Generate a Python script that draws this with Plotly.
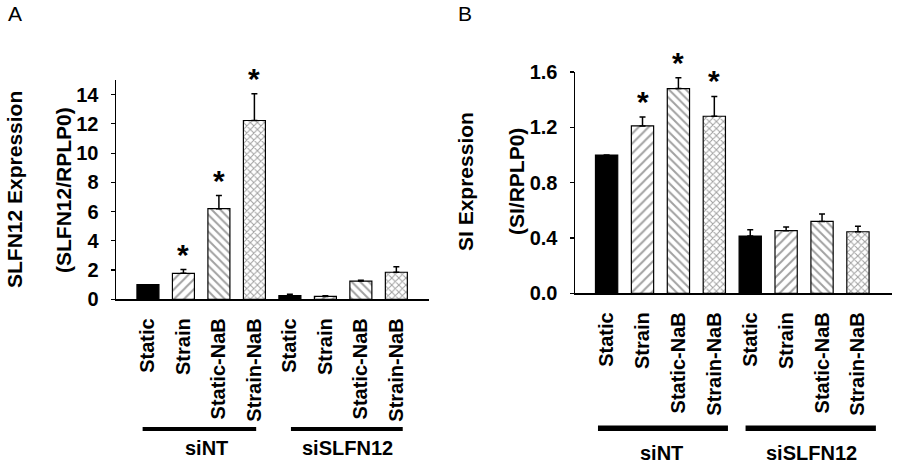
import plotly.graph_objects as go

# ---------------- data ----------------
conditions = ["Static", "Strain", "Static-NaB", "Strain-NaB",
              "Static", "Strain", "Static-NaB", "Strain-NaB"]
groups = ["siNT", "siSLFN12"]

slfn12_mean = [1.0, 1.78, 6.2, 12.23, 0.25, 0.20, 1.25, 1.85]
slfn12_err = [0.0, 0.25, 0.90, 1.83, 0.09, 0.05, 0.05, 0.38]
slfn12_sig = [False, True, True, True, False, False, False, False]

si_mean = [1.0, 1.21, 1.48, 1.28, 0.414, 0.453, 0.52, 0.445]
si_err = [0.0, 0.065, 0.078, 0.143, 0.046, 0.027, 0.053, 0.039]
si_sig = [False, True, True, True, False, False, False, False]

slfn12_ticks = [0, 2, 4, 6, 8, 10, 12, 14]
si_ticks = [0.0, 0.4, 0.8, 1.2, 1.6]

# ---------------- styles ----------------
FONT = "Liberation Sans, Arial, sans-serif"
style_color = {"Static": "black", "Strain": "white", "Static-NaB": "white", "Strain-NaB": "white"}
style_shape = {"Static": "", "Strain": "/", "Static-NaB": "\\", "Strain-NaB": "x"}
style_size = {"Static": 6, "Strain": 7, "Static-NaB": 6, "Strain-NaB": 5}
style_solid = {"Static": 0.2, "Strain": 0.28, "Static-NaB": 0.33, "Strain-NaB": 0.38}

xs = list(range(len(conditions)))

fig = go.Figure()


def add_bars(mean, err, xa, ya):
    fig.add_trace(go.Bar(
        x=xs, y=mean, width=0.62,
        xaxis=xa, yaxis=ya,
        marker=dict(
            color=[style_color[c] for c in conditions],
            line=dict(color="black", width=1.2),
            pattern=dict(
                shape=[style_shape[c] for c in conditions],
                size=[style_size[c] for c in conditions],
                solidity=[style_solid[c] for c in conditions],
                fgcolor="black", bgcolor="white", fillmode="overlay",
            ),
        ),
        error_y=dict(type="data", array=err, arrayminus=[0] * len(err),
                     symmetric=False, color="black", thickness=1.5, width=3),
        showlegend=False, hoverinfo="skip",
    ))


add_bars(slfn12_mean, slfn12_err, "x", "y")
add_bars(si_mean, si_err, "x2", "y2")

W, H = 900, 465

tickfont_y = dict(family=FONT, size=20, color="black", weight="bold")
tickfont_x = dict(family=FONT, size=20, color="black", weight="bold")

common_x = dict(
    tickmode="array", tickvals=xs, ticktext=conditions, tickangle=-90,
    tickfont=tickfont_x, showline=True, linecolor="black", linewidth=2,
    ticks="", showgrid=False, zeroline=False, ticklabelstandoff=9,
    fixedrange=True, automargin=False,
)
common_y = dict(
    showline=True, linecolor="black", linewidth=1.5, ticks="outside",
    ticklen=4, tickwidth=1.2, tickcolor="black", tickfont=tickfont_y,
    showgrid=False, zeroline=False, ticklabelstandoff=8, fixedrange=True,
    automargin=False,
)

fig.update_layout(
    width=W, height=H,
    margin=dict(l=0, r=0, t=0, b=0, autoexpand=False),
    paper_bgcolor="white", plot_bgcolor="white",
    font=dict(family=FONT, color="black"),
    bargap=0,
    xaxis=dict(domain=[116 / W, 429 / W], range=[-0.9, 7.92], anchor="y", **common_x),
    yaxis=dict(domain=[(H - 299.3) / H, (H - 80) / H], range=[0, 15],
               tickvals=slfn12_ticks, anchor="x", **common_y),
    xaxis2=dict(domain=[575 / W, 891.7 / W], range=[-0.88, 7.94], anchor="y2", **common_x),
    yaxis2=dict(domain=[(H - 293.3) / H, (H - 72) / H], range=[0, 1.6],
                tickvals=si_ticks, tickformat=".1f", anchor="x2", **common_y),
)

annotations = []
shapes = []

# significance stars
for xa, ya, mean, err, sig in [("x", "y", slfn12_mean, slfn12_err, slfn12_sig),
                               ("x2", "y2", si_mean, si_err, si_sig)]:
    for i, (m, e, s) in enumerate(zip(mean, err, sig)):
        if s:
            annotations.append(dict(
                x=i, y=m + e, xref=xa, yref=ya, text="*", showarrow=False,
                yanchor="bottom", yshift=-3,
                font=dict(family=FONT, size=30, color="black", weight="bold"),
            ))

# y titles
for xpix, ypix, txt in [(14, 190, "SLFN12 Expression"), (63, 190, "(SLFN12/RPLP0)"),
                        (466, 182, "SI Expression"), (517, 182, "(SI/RPLP0)")]:
    annotations.append(dict(
        x=xpix / W, y=(H - ypix) / H, xref="paper", yref="paper", text=txt,
        textangle=-90, showarrow=False, xanchor="center", yanchor="middle",
        font=dict(family=FONT, size=21, color="black", weight="bold"),
    ))

# panel letters
for xpix, txt in [(6, "A"), (456, "B")]:
    annotations.append(dict(
        x=xpix / W, y=1, xref="paper", yref="paper", text=txt,
        showarrow=False, xanchor="left", yanchor="top",
        font=dict(family=FONT, size=21, color="black"),
    ))

# group bars and labels
group_specs = [
    ("x", [(-0.15, 3.05), (4.03, 7.18)], 429, 4, [1.66, 5.63], 448),
    ("x2", [(-0.24, 3.38), (3.87, 7.5)], 428.3, 5.5, [1.53, 5.71], 453),
]
for xa, spans, ypix, lw, labx, laby in group_specs:
    for (x0, x1), g, lx in zip(spans, groups, labx):
        shapes.append(dict(
            type="line", xref=xa, yref="paper", x0=x0, x1=x1,
            y0=(H - ypix) / H, y1=(H - ypix) / H,
            line=dict(color="black", width=lw),
        ))
        annotations.append(dict(
            x=lx, y=(H - laby) / H, xref=xa, yref="paper", text=g,
            showarrow=False, xanchor="center", yanchor="middle",
            font=dict(family=FONT, size=20, color="black", weight="bold"),
        ))

fig.update_layout(annotations=annotations, shapes=shapes)

fig.write_html(
    "out.html",
    config={"displayModeBar": False, "staticPlot": True},
    post_script="document.body.style.margin='0px';document.body.style.padding='0px';"
                "document.body.style.overflow='hidden';",
)
